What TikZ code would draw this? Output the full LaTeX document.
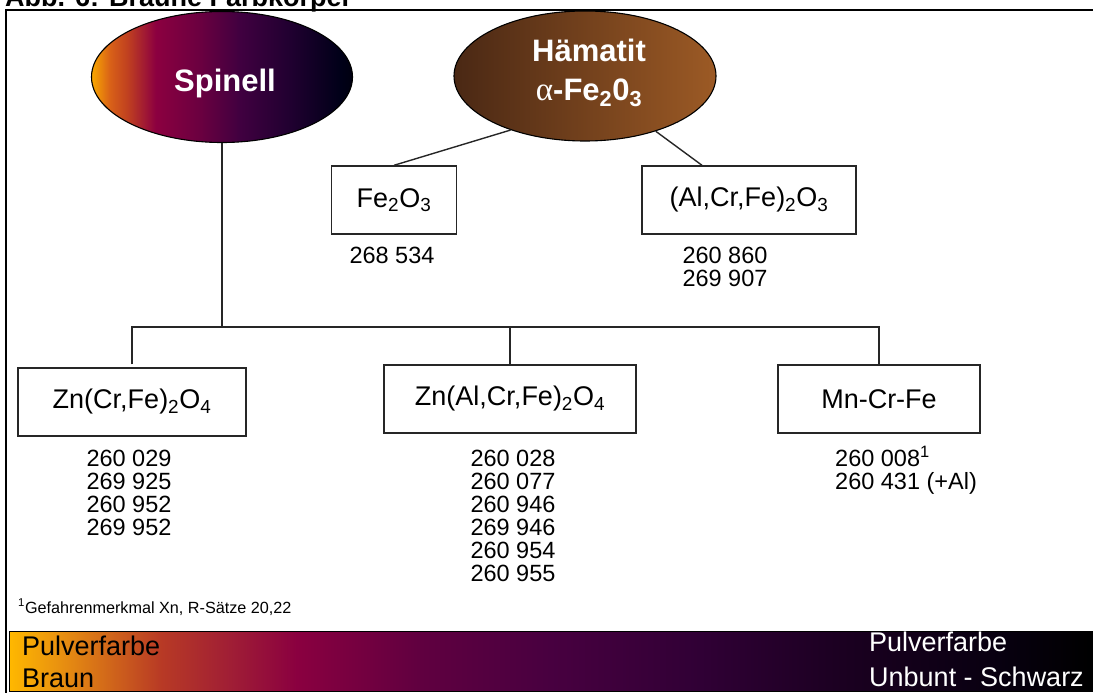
\documentclass[tikz,border=0pt]{standalone}
\usepackage{fontspec}
\setmainfont{Liberation Sans}
\newfontfamily\greekserif{Liberation Serif}
\usetikzlibrary{shapes.geometric,calc}

\definecolor{sp0}{HTML}{F9A800}
\definecolor{sp1}{HTML}{D86018}
\definecolor{sp2}{HTML}{C04020}
\definecolor{sp3}{HTML}{8C0040}
\definecolor{sp4}{HTML}{6A0040}
\definecolor{sp5}{HTML}{400040}
\definecolor{sp6}{HTML}{200030}
\definecolor{sp7}{HTML}{000018}
\definecolor{sp8}{HTML}{000010}
\definecolor{hm0}{HTML}{4A2814}
\definecolor{hm1}{HTML}{9C5A25}
\definecolor{br0}{HTML}{FFB800}
\definecolor{br1}{HTML}{E89010}
\definecolor{br2}{HTML}{B83A25}
\definecolor{br3}{HTML}{A01E35}
\definecolor{br4}{HTML}{8A0040}
\definecolor{br5}{HTML}{600040}
\definecolor{br6}{HTML}{480040}
\definecolor{br7}{HTML}{300035}
\definecolor{br8}{HTML}{1A0020}
\definecolor{br9}{HTML}{080010}
\definecolor{br10}{HTML}{000000}
\definecolor{linegray}{HTML}{262626}

\pgfdeclarehorizontalshading{spinshade}{100bp}{color(0bp)=(sp0); color(25bp)=(sp0); color(28.6bp)=(sp1); color(31.9bp)=(sp2); color(37.3bp)=(sp3); color(45.9bp)=(sp4); color(53.5bp)=(sp5); color(63.1bp)=(sp6); color(72.7bp)=(sp7); color(75bp)=(sp8); color(100bp)=(sp8)}
\pgfdeclarehorizontalshading{hemshade}{100bp}{color(0bp)=(hm0); color(25bp)=(hm0); color(75bp)=(hm1); color(100bp)=(hm1)}
\pgfdeclarehorizontalshading{barshade}{100bp}{color(0bp)=(br0); color(25bp)=(br0); color(27.4bp)=(br1); color(32bp)=(br2); color(35.2bp)=(br3); color(38.3bp)=(br4); color(44bp)=(br5); color(50bp)=(br6); color(56.9bp)=(br7); color(63.8bp)=(br8); color(70.7bp)=(br9); color(75bp)=(br10); color(100bp)=(br10)}

\tikzset{
  oval/.style={ellipse, draw=black, line width=1.1pt, shade, inner sep=0pt},
  ovaltext/.style={text=white, font=\bfseries\fontsize{31}{31}\selectfont, inner sep=0pt, anchor=base},
  chembox/.style={rectangle, draw=linegray, line width=1.4pt, minimum height=68pt, inner sep=0pt, font=\fontsize{27}{27}\selectfont},
  numlist/.style={inner sep=0pt, font=\fontsize{23.5}{23}\selectfont},
  conn/.style={draw=linegray, line width=1.4pt},
  bartext/.style={inner sep=0pt, anchor=base west, font=\fontsize{27}{27}\selectfont}
}

\begin{document}
\begin{tikzpicture}[x=1pt, y=-1pt]
\useasboundingbox (0,0) rectangle (1093,693);

% title (cut off at top, as in the reference)
\node[anchor=base west, inner sep=0pt, font=\bfseries\fontsize{27}{27}\selectfont] (title) at (5,7) {Abb. 6: Braune Farbkörper};

% frame
\draw[line width=1.8pt, black] (6,705) -- (6,10) -- (1110,10);

% ovals
\node[oval, shading=spinshade, minimum width=261pt, minimum height=131pt] (spin) at (222,77) {};
\node[ovaltext] (spinlbl) at (225,92) {Spinell};
\node[oval, shading=hemshade, minimum width=262pt, minimum height=130pt] (hem) at (585,76) {};
\node[ovaltext] (hemA) at (589,62) {Hämatit};
\node[ovaltext] (hemB) at (589,100) {{\mdseries\greekserif\fontsize{33}{33}\selectfont α}-Fe\textsubscript{2}0\textsubscript{3}};

% upper boxes
\node[chembox, minimum width=125pt] (fe) at (394,200) {Fe\textsubscript{2}O\textsubscript{3}};
\node[chembox, minimum width=214pt] (alcrfe) at (749,200) {(Al,Cr,Fe)\textsubscript{2}O\textsubscript{3}};

\draw[conn] (hem.216) -- (fe.north);
\draw[conn] (hem.322) -- ([xshift=-47pt]alcrfe.north);

\node[numlist, anchor=north] (nfe) at (392,247) {268 534};
\node[numlist, anchor=north, align=left] (nalcrfe) at (725,247) {260 860\\269 907};

% lower boxes
\node[chembox, minimum width=228pt] (zncrfe) at (132,402) {Zn(Cr,Fe)\textsubscript{2}O\textsubscript{4}};
\node[chembox, minimum width=252pt] (znal) at (510,399) {Zn(Al,Cr,Fe)\textsubscript{2}O\textsubscript{4}};
\node[chembox, minimum width=202pt] (mn) at (879,399) {Mn-Cr-Fe};

\coordinate (bar) at (0,327);
\draw[conn] (spin.south) -- (spin.south |- bar);
\draw[conn, shorten <=3pt] (zncrfe.north) -- (zncrfe.north |- bar) -- (mn.north |- bar) -- (mn.north);
\draw[conn] (znal.north) -- (znal.north |- bar);

\node[numlist, anchor=north, align=left] (nzncrfe) at (129,450) {260 029\\269 925\\260 952\\269 952};
\node[numlist, anchor=north, align=left] (nznal) at (513,450) {260 028\\260 077\\260 946\\269 946\\260 954\\260 955};
\node[numlist, anchor=north west, align=left] (nmn) at (835,450) {260 008\smash{\textsuperscript{1}}\\260 431 (+Al)};

% footnote
\node[inner sep=0pt, anchor=base west, font=\fontsize{16.2}{17}\selectfont] (foot) at (18,613) {\textsuperscript{1}Gefahrenmerkmal Xn, R-Sätze 20,22};

% colour bar
\draw[shade, shading=barshade, draw=black, line width=1pt] (9,631) rectangle (1092,691);
\node[bartext] (pl) at (22,655) {Pulverfarbe};
\node[bartext] (braun) at (22,687) {Braun};
\node[bartext, text=white] (pr) at (869,651) {Pulverfarbe};
\node[bartext, text=white] (schwarz) at (869,686) {Unbunt - Schwarz};
\end{tikzpicture}
\end{document}
